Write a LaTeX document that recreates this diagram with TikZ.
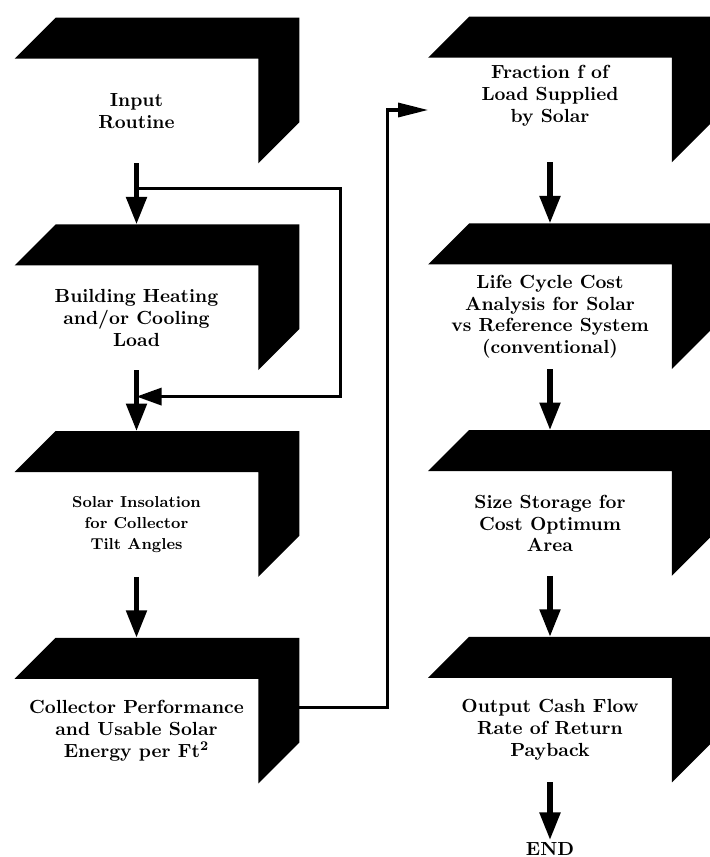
\documentclass[tikz,border=0pt]{standalone}
\usetikzlibrary{arrows.meta, positioning, calc}

\begin{document}
\begin{tikzpicture}[
    % ── Node styles ──────────────────────────────────────────────────────
    face/.style={
        minimum width=4.86cm, minimum height=2.08cm, inner sep=0pt,
        align=center, font=\fontsize{10.8}{12.5}\selectfont\bfseries
    },
    smallface/.style={
        face, font=\fontsize{9}{12}\selectfont\bfseries
    },
    endlabel/.style={
        inner sep=1pt, font=\fontsize{10.8}{12.5}\selectfont\bfseries
    },
    % ── Arrow styles ─────────────────────────────────────────────────────
    lastflow/.style={
        -{Triangle[length=5.5mm, width=4mm]}, line width=3pt
    },
    flow/.style={
        lastflow, shorten >=8.2mm
    },
    ret/.style={
        -{Triangle[length=5mm, width=3.4mm]}, line width=1.8pt
    },
    feed/.style={
        -{Triangle[length=6mm, width=2.8mm]}, line width=1.8pt
    }
]

\useasboundingbox (0,0) rectangle (14.2,-17.14);
\clip (0,0) rectangle (14.2,-17.14);

% ═══════════════════════════════════════════════════════════════════════════
% Left column
% ═══════════════════════════════════════════════════════════════════════════
\node[face] (input) at (2.73,-2.22) {Input\\Routine};
\node[face, below=2.04cm of input] (building)
    {Building Heating\\and/or Cooling\\Load};
\node[smallface, below=2.04cm of building] (insolation)
    {Solar Insolation\\for Collector\\Tilt Angles};
\node[face, below=2.04cm of insolation] (collector)
    {Collector Performance\\and Usable Solar\\Energy per Ft\textsuperscript{2}};

% ═══════════════════════════════════════════════════════════════════════════
% Right column
% ═══════════════════════════════════════════════════════════════════════════
\node[face] (fraction) at (11.0,-2.2)
    {Fraction f of\\Load Supplied\\by Solar\\[2mm]};
\node[face, below=2.04cm of fraction] (lifecycle)
    {Life Cycle Cost\\Analysis for Solar\\vs Reference System\\(conventional)};
\node[face, below=2.04cm of lifecycle] (storage)
    {Size Storage for\\Cost Optimum\\Area};
\node[face, below=2.04cm of storage] (output)
    {Output Cash Flow\\Rate of Return\\Payback};
\node[endlabel, below=1.15cm of output] (finish) {END};

% Black slabs on top and right of each box
\foreach \n in {input,building,insolation,collector,fraction,lifecycle,storage,output}
    \fill (\n.north west) -- ++(0.82,0.82)
        -- ([shift={(0.82,0.82)}]\n.north east)
        -- ([shift={(0.82,0.82)}]\n.south east)
        -- (\n.south east) -- (\n.north east) -- cycle;

% ═══════════════════════════════════════════════════════════════════════════
% Arrows
% ═══════════════════════════════════════════════════════════════════════════
\draw[flow] (input)      -- (building);
\draw[flow] (building)   -- (insolation);
\draw[flow] (insolation) -- (collector);

\draw[flow] (fraction)  -- (lifecycle);
\draw[flow] (lifecycle) -- (storage);
\draw[flow] (storage)   -- (output);
\draw[lastflow] (output) -- (finish);

% Loop back round the load box
\coordinate (split) at ($(input.south)!0.25!(building.north)$);
\coordinate (join)  at ($(building.south)!0.26!(insolation.north)$);
\coordinate (loopx) at ($(building.east)+(1.64,0)$);
\draw[ret] (split) -| (loopx) |- (join);

% Collector output over to the right column
\coordinate (tap) at ([xshift=8.2mm, yshift=4.8mm]collector.east);
\draw[feed] (tap) -| ([xshift=-8.2mm]fraction.west) |- (fraction.west);

\end{tikzpicture}
\end{document}
